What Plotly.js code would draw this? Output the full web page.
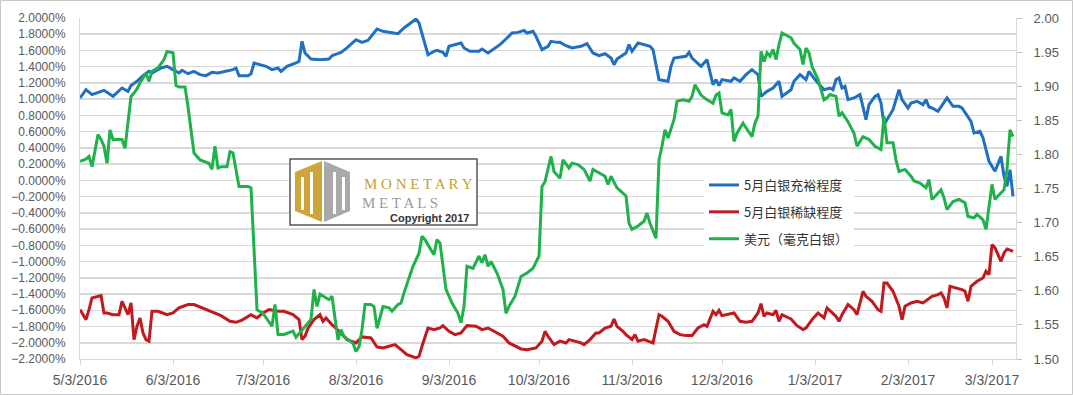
<!DOCTYPE html>
<html>
<head>
<meta charset="utf-8">
<script src="https://cdn.plot.ly/plotly-3.0.1.min.js"></script>
<style>html,body{margin:0;padding:0;background:#fff;}#chart{width:1073px;height:395px;}</style>
</head>
<body>
<div id="chart"></div>
<script>
// ---------- data ----------
const seriesNames = ["5月白银充裕程度", "5月白银稀缺程度", "美元（毫克白银）"];

const monthTicks = ["2016-05-03","2016-06-03","2016-07-03","2016-08-03","2016-09-03","2016-10-03",
  "2016-11-03","2016-12-03","2017-01-03","2017-02-03","2017-03-03"];

// 5月白银充裕程度 (% , left axis)
const abundanceDates = ["2016-05-03","2016-05-05","2016-05-07","2016-05-11","2016-05-14","2016-05-17","2016-05-19","2016-05-20","2016-05-22","2016-05-24",
"2016-05-26","2016-05-27","2016-05-30","2016-06-01","2016-06-03","2016-06-05","2016-06-06","2016-06-08","2016-06-10","2016-06-12",
"2016-06-14","2016-06-16","2016-06-18","2016-06-20","2016-06-23","2016-06-24","2016-06-25","2016-06-28","2016-06-29","2016-06-30",
"2016-07-02","2016-07-04","2016-07-06","2016-07-08","2016-07-09","2016-07-11","2016-07-14","2016-07-15","2016-07-16","2016-07-17",
"2016-07-19","2016-07-22","2016-07-25","2016-07-26","2016-07-29","2016-07-31","2016-08-03","2016-08-05","2016-08-07","2016-08-10",
"2016-08-12","2016-08-14","2016-08-17","2016-08-19","2016-08-22","2016-08-23","2016-08-24","2016-08-25","2016-08-27","2016-08-29",
"2016-08-30","2016-09-01","2016-09-02","2016-09-03","2016-09-05","2016-09-07","2016-09-08","2016-09-10","2016-09-13","2016-09-14",
"2016-09-16","2016-09-18","2016-09-20","2016-09-22","2016-09-24","2016-09-26","2016-09-28","2016-09-29","2016-10-01","2016-10-02",
"2016-10-04","2016-10-06","2016-10-07","2016-10-09","2016-10-10","2016-10-12","2016-10-14","2016-10-17","2016-10-19","2016-10-21",
"2016-10-23","2016-10-25","2016-10-27","2016-10-28","2016-10-29","2016-11-01","2016-11-02","2016-11-03","2016-11-05","2016-11-07",
"2016-11-09","2016-11-10","2016-11-11","2016-11-12","2016-11-15","2016-11-16","2016-11-17","2016-11-19","2016-11-21","2016-11-22",
"2016-11-23","2016-11-26","2016-11-27","2016-11-28","2016-11-30","2016-12-01","2016-12-02","2016-12-03","2016-12-06","2016-12-07",
"2016-12-09","2016-12-11","2016-12-13","2016-12-15","2016-12-16","2016-12-18","2016-12-20","2016-12-22","2016-12-23","2016-12-26",
"2016-12-27","2016-12-29","2016-12-31","2017-01-01","2017-01-03","2017-01-05","2017-01-06","2017-01-08","2017-01-09","2017-01-10",
"2017-01-11","2017-01-12","2017-01-13","2017-01-14","2017-01-16","2017-01-18","2017-01-20","2017-01-21","2017-01-23","2017-01-24",
"2017-01-25","2017-01-26","2017-01-29","2017-01-30","2017-01-31","2017-02-01","2017-02-03","2017-02-04","2017-02-06","2017-02-08",
"2017-02-09","2017-02-10","2017-02-11","2017-02-13","2017-02-15","2017-02-16","2017-02-18","2017-02-20","2017-02-21","2017-02-23",
"2017-02-24","2017-02-25","2017-02-27","2017-02-28","2017-03-01","2017-03-02","2017-03-04","2017-03-05","2017-03-06","2017-03-07",
"2017-03-08","2017-03-09","2017-03-10"];
const abundanceVals = [1.015,1.117,1.056,1.109,1.035,1.138,1.097,1.167,1.22,1.29,
1.343,1.323,1.384,1.405,1.364,1.323,1.356,1.314,1.343,1.302,
1.29,1.331,1.323,1.343,1.364,1.384,1.29,1.29,1.314,1.446,
1.425,1.405,1.364,1.384,1.343,1.405,1.446,1.466,1.713,1.569,
1.495,1.487,1.495,1.536,1.577,1.631,1.733,1.70,1.725,1.865,
1.836,1.823,1.807,1.877,1.959,1.988,1.938,1.815,1.548,1.59,
1.602,1.577,1.528,1.651,1.672,1.692,1.631,1.59,1.59,1.618,
1.569,1.618,1.672,1.741,1.815,1.823,1.848,1.815,1.836,1.774,
1.61,1.651,1.713,1.70,1.70,1.659,1.631,1.651,1.684,1.569,
1.536,1.56,1.507,1.425,1.495,1.569,1.672,1.59,1.692,1.672,
1.651,1.61,1.405,1.241,1.22,1.405,1.507,1.52,1.528,1.577,
1.507,1.405,1.446,1.487,1.179,1.241,1.167,1.241,1.22,1.261,
1.22,1.302,1.364,1.302,1.035,1.097,1.138,1.22,1.035,1.117,
1.22,1.302,1.241,1.343,1.241,1.167,1.117,1.138,1.117,1.241,
1.261,1.138,1.158,0.994,1.015,1.056,0.748,0.933,1.035,1.056,
0.953,0.686,0.871,0.994,1.117,0.994,0.892,0.953,0.974,0.933,
0.994,0.904,0.892,0.851,0.953,1.015,0.912,0.912,0.892,0.789,
0.727,0.584,0.604,0.522,0.378,0.235,0.112,0.214,0.296,0.05,
-0.073,0.132,-0.196];

// 5月白银稀缺程度 (% , left axis)
const scarcityDates = ["2016-05-03","2016-05-05","2016-05-06","2016-05-07","2016-05-10","2016-05-11","2016-05-12","2016-05-14","2016-05-16","2016-05-17",
"2016-05-19","2016-05-20","2016-05-21","2016-05-22","2016-05-23","2016-05-24","2016-05-25","2016-05-26","2016-05-27","2016-05-29",
"2016-06-01","2016-06-03","2016-06-05","2016-06-08","2016-06-10","2016-06-12","2016-06-15","2016-06-19","2016-06-22","2016-06-24",
"2016-06-26","2016-06-29","2016-07-01","2016-07-03","2016-07-05","2016-07-08","2016-07-10","2016-07-13","2016-07-15","2016-07-16",
"2016-07-17","2016-07-18","2016-07-20","2016-07-22","2016-07-23","2016-07-24","2016-07-26","2016-07-28","2016-07-29","2016-07-31",
"2016-08-03","2016-08-05","2016-08-08","2016-08-10","2016-08-12","2016-08-14","2016-08-16","2016-08-18","2016-08-20","2016-08-23",
"2016-08-24","2016-08-25","2016-08-27","2016-08-29","2016-08-31","2016-09-01","2016-09-03","2016-09-05","2016-09-07","2016-09-09",
"2016-09-12","2016-09-14","2016-09-16","2016-09-18","2016-09-21","2016-09-23","2016-09-25","2016-09-27","2016-09-29","2016-10-02",
"2016-10-04","2016-10-05","2016-10-06","2016-10-08","2016-10-10","2016-10-12","2016-10-13","2016-10-15","2016-10-17","2016-10-18",
"2016-10-20","2016-10-22","2016-10-23","2016-10-25","2016-10-27","2016-10-28","2016-10-29","2016-10-31","2016-11-01","2016-11-03",
"2016-11-04","2016-11-05","2016-11-07","2016-11-10","2016-11-12","2016-11-13","2016-11-15","2016-11-17","2016-11-19","2016-11-21",
"2016-11-23","2016-11-25","2016-11-27","2016-11-28","2016-11-30","2016-12-01","2016-12-02","2016-12-03","2016-12-05","2016-12-07",
"2016-12-09","2016-12-11","2016-12-13","2016-12-15","2016-12-16","2016-12-17","2016-12-18","2016-12-20","2016-12-21","2016-12-22",
"2016-12-23","2016-12-26","2016-12-28","2016-12-30","2016-12-31","2017-01-02","2017-01-04","2017-01-06","2017-01-07","2017-01-10",
"2017-01-11","2017-01-12","2017-01-14","2017-01-16","2017-01-17","2017-01-19","2017-01-20","2017-01-22","2017-01-24","2017-01-25",
"2017-01-26","2017-01-27","2017-01-29","2017-01-31","2017-02-01","2017-02-02","2017-02-04","2017-02-06","2017-02-08","2017-02-10",
"2017-02-11","2017-02-13","2017-02-14","2017-02-15","2017-02-16","2017-02-17","2017-02-19","2017-02-21","2017-02-22","2017-02-23",
"2017-02-24","2017-02-26","2017-02-28","2017-03-01","2017-03-02","2017-03-03","2017-03-04","2017-03-06","2017-03-07","2017-03-08",
"2017-03-09","2017-03-10"];
const scarcityVals = [-1.592,-1.715,-1.592,-1.448,-1.419,-1.633,-1.633,-1.654,-1.654,-1.489,
-1.654,-1.51,-1.961,-1.797,-1.695,-1.879,-1.961,-1.98,-1.612,-1.612,
-1.654,-1.633,-1.571,-1.53,-1.53,-1.56,-1.612,-1.666,-1.736,-1.748,
-1.72,-1.654,-1.695,-1.633,-1.592,-1.612,-1.612,-1.654,-1.715,-1.961,
-1.92,-1.82,-1.715,-1.654,-1.736,-1.695,-1.777,-1.838,-1.879,-1.961,
-2.002,-1.928,-1.941,-2.052,-2.064,-2.043,-2.023,-2.085,-2.146,-2.187,
-2.166,-2.043,-1.818,-1.838,-1.818,-1.789,-1.859,-1.9,-1.879,-1.789,
-1.797,-1.838,-1.818,-1.859,-1.92,-2.002,-2.043,-2.076,-2.085,-2.064,
-1.982,-1.859,-1.92,-2.023,-1.98,-2.002,-1.961,-1.982,-2.002,-2.023,
-1.961,-1.879,-1.879,-1.818,-1.797,-1.707,-1.797,-1.859,-1.9,-1.961,
-1.9,-1.982,-1.961,-2.002,-1.654,-1.674,-1.736,-1.859,-1.9,-1.912,
-1.912,-1.818,-1.777,-1.797,-1.613,-1.654,-1.6,-1.666,-1.654,-1.633,
-1.736,-1.748,-1.736,-1.633,-1.518,-1.674,-1.633,-1.654,-1.6,-1.736,
-1.654,-1.707,-1.789,-1.838,-1.82,-1.715,-1.633,-1.695,-1.571,-1.674,
-1.736,-1.654,-1.53,-1.592,-1.654,-1.366,-1.428,-1.489,-1.592,-1.612,
-1.264,-1.264,-1.366,-1.551,-1.715,-1.551,-1.51,-1.489,-1.51,-1.448,
-1.428,-1.407,-1.387,-1.448,-1.571,-1.305,-1.325,-1.346,-1.366,-1.489,
-1.305,-1.243,-1.202,-1.12,-1.161,-0.791,-0.832,-0.997,-0.894,-0.845,
-0.86,-0.874];

// 美元（毫克白银） (right axis)
const dollarDates = ["2016-05-03","2016-05-05","2016-05-06","2016-05-07","2016-05-09","2016-05-10","2016-05-11","2016-05-12","2016-05-13","2016-05-14",
"2016-05-15","2016-05-17","2016-05-18","2016-05-20","2016-05-21","2016-05-22","2016-05-23","2016-05-25","2016-05-26","2016-05-27",
"2016-05-29","2016-05-31","2016-06-01","2016-06-03","2016-06-04","2016-06-05","2016-06-07","2016-06-08","2016-06-10","2016-06-12",
"2016-06-15","2016-06-16","2016-06-17","2016-06-18","2016-06-19","2016-06-21","2016-06-22","2016-06-23","2016-06-25","2016-06-28",
"2016-06-29","2016-07-01","2016-07-03","2016-07-05","2016-07-06","2016-07-07","2016-07-08","2016-07-10","2016-07-13","2016-07-14",
"2016-07-16","2016-07-19","2016-07-20","2016-07-21","2016-07-22","2016-07-25","2016-07-26","2016-07-28","2016-07-29","2016-07-30",
"2016-08-02","2016-08-03","2016-08-04","2016-08-05","2016-08-06","2016-08-08","2016-08-09","2016-08-10","2016-08-12","2016-08-14",
"2016-08-15","2016-08-17","2016-08-18","2016-08-19","2016-08-22","2016-08-24","2016-08-25","2016-08-26","2016-08-28","2016-08-29",
"2016-08-30","2016-08-31","2016-09-02","2016-09-04","2016-09-06","2016-09-07","2016-09-08","2016-09-09","2016-09-11","2016-09-13",
"2016-09-14","2016-09-15","2016-09-16","2016-09-17","2016-09-19","2016-09-21","2016-09-22","2016-09-23","2016-09-25","2016-09-27",
"2016-09-29","2016-10-01","2016-10-03","2016-10-04","2016-10-05","2016-10-07","2016-10-08","2016-10-10","2016-10-11","2016-10-13",
"2016-10-14","2016-10-16","2016-10-18","2016-10-20","2016-10-21","2016-10-23","2016-10-25","2016-10-26","2016-10-27","2016-10-29",
"2016-10-31","2016-11-01","2016-11-02","2016-11-03","2016-11-05","2016-11-07","2016-11-08","2016-11-09","2016-11-11","2016-11-12",
"2016-11-13","2016-11-14","2016-11-15","2016-11-17","2016-11-18","2016-11-20","2016-11-22","2016-11-23","2016-11-24","2016-11-26",
"2016-11-28","2016-11-30","2016-12-01","2016-12-02","2016-12-03","2016-12-05","2016-12-06","2016-12-07","2016-12-08","2016-12-10",
"2016-12-11","2016-12-13","2016-12-14","2016-12-15","2016-12-16","2016-12-17","2016-12-18","2016-12-19","2016-12-20","2016-12-21",
"2016-12-22","2016-12-23","2016-12-26","2016-12-27","2016-12-29","2016-12-30","2016-12-31","2017-01-01","2017-01-02","2017-01-04",
"2017-01-06","2017-01-07","2017-01-08","2017-01-10","2017-01-11","2017-01-12","2017-01-14","2017-01-16","2017-01-17","2017-01-19",
"2017-01-21","2017-01-23","2017-01-25","2017-01-26","2017-01-27","2017-01-29","2017-01-30","2017-01-31","2017-02-02","2017-02-04",
"2017-02-05","2017-02-07","2017-02-09","2017-02-10","2017-02-11","2017-02-13","2017-02-14","2017-02-15","2017-02-16","2017-02-18",
"2017-02-20","2017-02-22","2017-02-23","2017-02-25","2017-02-26","2017-02-28","2017-03-01","2017-03-03","2017-03-04","2017-03-05",
"2017-03-07","2017-03-08","2017-03-09","2017-03-10"];
const dollarVals = [1.790,1.793,1.797,1.782,1.829,1.822,1.812,1.787,1.836,1.822,
1.822,1.822,1.809,1.885,1.890,1.896,1.905,1.919,1.907,1.922,
1.927,1.939,1.951,1.949,1.901,1.899,1.899,1.870,1.802,1.792,
1.787,1.778,1.812,1.780,1.782,1.782,1.804,1.802,1.753,1.753,
1.751,1.572,1.567,1.555,1.548,1.580,1.536,1.536,1.541,1.532,
1.543,1.558,1.602,1.577,1.595,1.587,1.592,1.528,1.543,1.533,
1.523,1.511,1.518,1.543,1.580,1.580,1.577,1.545,1.577,1.575,
1.570,1.580,1.582,1.597,1.636,1.655,1.680,1.675,1.660,1.653,
1.675,1.670,1.602,1.582,1.567,1.553,1.577,1.636,1.633,1.651,
1.641,1.653,1.636,1.643,1.626,1.602,1.567,1.577,1.592,1.621,
1.626,1.633,1.651,1.753,1.760,1.797,1.775,1.765,1.792,1.780,
1.787,1.785,1.778,1.761,1.778,1.773,1.768,1.756,1.768,1.751,
1.743,1.739,1.699,1.690,1.695,1.702,1.714,1.699,1.677,1.792,
1.812,1.836,1.824,1.851,1.878,1.880,1.878,1.885,1.902,1.887,
1.880,1.875,1.887,1.890,1.861,1.858,1.866,1.819,1.831,1.846,
1.839,1.826,1.846,1.856,1.951,1.936,1.949,1.944,1.954,1.939,
1.961,1.978,1.971,1.963,1.954,1.932,1.956,1.949,1.929,1.910,
1.880,1.883,1.888,1.885,1.856,1.861,1.848,1.831,1.812,1.826,
1.822,1.812,1.807,1.856,1.817,1.817,1.792,1.775,1.778,1.768,
1.761,1.758,1.751,1.763,1.734,1.743,1.748,1.736,1.719,1.731,
1.734,1.729,1.709,1.707,1.712,1.704,1.690,1.756,1.734,1.739,
1.748,1.778,1.836,1.826];

// ---------- helpers for decorative (non-data) overlay ----------
const PLOT = {l: 80, t: 18, w: 936, h: 341};
const px = x => (x - PLOT.l) / PLOT.w;
const py = y => 1 - (y - PLOT.t) / PLOT.h;
function pathFrom(pts) {
  return 'M ' + pts.map(p => px(p[0]).toFixed(5) + ',' + py(p[1]).toFixed(5)).join(' L ') + ' Z';
}
function rectPx(x0, y0, x1, y1, fill, line) {
  return {type: 'rect', xref: 'paper', yref: 'paper', x0: px(x0), x1: px(x1), y0: py(y1), y1: py(y0),
    fillcolor: fill, line: line || {width: 0}, layer: 'above'};
}

const blue = '#1F6FC2', red = '#C2191F', green = '#1FB14A';
const tickGray = '#595959', gridGray = '#d9d9d9';

const traces = [
  {x: abundanceDates, y: abundanceVals, name: seriesNames[0], type: 'scatter', mode: 'lines',
   line: {color: blue, width: 3}, legendgroup: 'a', yaxis: 'y'},
  {x: scarcityDates, y: scarcityVals, name: seriesNames[1], type: 'scatter', mode: 'lines',
   line: {color: red, width: 3}, legendgroup: 'b', yaxis: 'y'},
  {x: dollarDates, y: dollarVals, name: seriesNames[2], type: 'scatter', mode: 'lines',
   line: {color: green, width: 3}, legendgroup: 'c', yaxis: 'y2'}
];

const shapes = [
  // white patch at lower right of the plot (covers gridlines as in the source image)
  Object.assign(rectPx(905, 318, 1013, 356, '#ffffff'), {layer: 'between'}),
  // logo box
  rectPx(290, 159, 477, 225, '#ffffff', {color: '#555555', width: 1.5}),
  {type: 'path', xref: 'paper', yref: 'paper', path: pathFrom([[295,172],[322,161],[322,222],[295,211]]),
   fillcolor: '#CFA43A', line: {width: 0}, layer: 'above'},
  {type: 'path', xref: 'paper', yref: 'paper', path: pathFrom([[324,161],[350,172],[350,211],[324,222]]),
   fillcolor: '#A9A9A9', line: {width: 0}, layer: 'above'},
  rectPx(301, 177, 304, 210, '#ffffff'),
  rectPx(310, 172, 313, 214, '#ffffff'),
  rectPx(333, 172, 336, 214, '#ffffff'),
  rectPx(342, 177, 345, 210, '#ffffff'),
  // outer frame of the image
  {type: 'rect', xref: 'paper', yref: 'paper', x0: px(0.5), x1: px(1072.5), y0: py(394.5), y1: py(0.5),
   line: {color: '#c8c8c8', width: 1}, fillcolor: 'rgba(0,0,0,0)', layer: 'above'}
];

const annotations = [
  {xref: 'paper', yref: 'paper', x: px(418), y: py(184), text: 'M O N E T A R Y', showarrow: false,
   xanchor: 'center', yanchor: 'middle', font: {family: 'Liberation Serif', size: 15, color: '#C9A032'}},
  {xref: 'paper', yref: 'paper', x: px(360), y: py(203), text: 'M E T A L S', showarrow: false,
   xanchor: 'left', yanchor: 'middle', font: {family: 'Liberation Serif', size: 15, color: '#9B9B9B'}},
  {xref: 'paper', yref: 'paper', x: px(429), y: py(218), text: 'Copyright 2017', showarrow: false,
   xanchor: 'center', yanchor: 'middle', font: {family: 'Liberation Sans', size: 11, color: '#333333', weight: 'bold'}}
];

const layout = {
  width: 1073, height: 395,
  margin: {l: PLOT.l, r: 1073 - PLOT.l - PLOT.w, t: PLOT.t, b: 395 - PLOT.t - PLOT.h, pad: 0},
  paper_bgcolor: '#ffffff', plot_bgcolor: '#ffffff',
  showlegend: true,
  legend: {x: px(704), y: py(170), xanchor: 'left', yanchor: 'top', bgcolor: '#ffffff',
    font: {family: 'Noto Sans CJK SC', size: 13, color: '#333333'},
    traceorder: 'grouped', tracegroupgap: 7},
  xaxis: {type: 'date', range: ['2016-05-03', '2017-03-11'], tickmode: 'array', tickvals: monthTicks,
    tickformat: '%-m/%-d/%Y', showgrid: false, zeroline: false, showline: true, linecolor: gridGray, linewidth: 1,
    ticks: 'outside', ticklen: 5, tickcolor: gridGray, ticklabelstandoff: 3,
    tickfont: {family: 'Liberation Sans', size: 14, color: tickGray}},
  yaxis: {range: [-2.2, 2.0], tick0: 0, dtick: 0.2, tickformat: '.4f', ticksuffix: '%',
    showgrid: true, gridcolor: gridGray, gridwidth: 1.5, zeroline: false,
    showline: true, linecolor: gridGray, ticks: '', ticklabelstandoff: 11,
    tickfont: {family: 'Liberation Sans', size: 12, color: tickGray}},
  yaxis2: {range: [1.5, 2.0], tick0: 1.5, dtick: 0.05, tickformat: '.2f', overlaying: 'y', side: 'right',
    showgrid: false, zeroline: false, showline: true, linecolor: gridGray,
    ticks: 'outside', ticklen: 5, tickcolor: '#bfbfbf', ticklabelstandoff: 9,
    tickfont: {family: 'Liberation Sans', size: 13, color: tickGray}},
  shapes: shapes,
  annotations: annotations
};

Plotly.newPlot('chart', traces, layout, {displayModeBar: false, staticPlot: true});
</script>
</body>
</html>
